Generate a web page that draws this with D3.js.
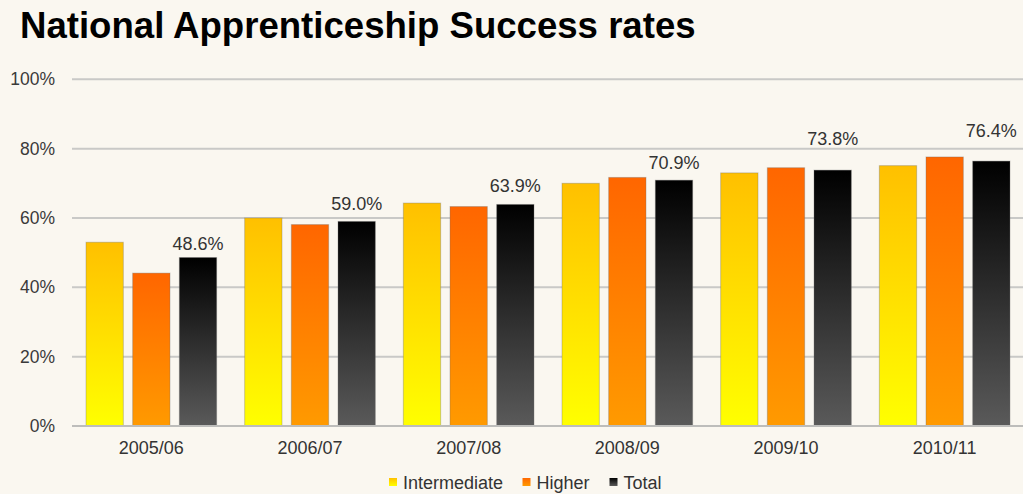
<!DOCTYPE html>
<html>
<head>
<meta charset="utf-8">
<script src="https://cdn.jsdelivr.net/npm/d3@7"></script>
<style>
  html, body { margin: 0; padding: 0; background: #FAF7F0; }
  svg { display: block; font-family: "Liberation Sans", Arial, sans-serif; }
</style>
</head>
<body>
<svg id="chart" width="1023" height="494"></svg>
<script>
// Success rates by academic year (%)
const years = ["2005/06", "2006/07", "2007/08", "2008/09", "2009/10", "2010/11"];
const seriesNames = ["Intermediate", "Higher", "Total"];
const intermediate = [53.0, 60.0, 64.3, 70.0, 73.0, 75.1];
const higher = [44.1, 58.1, 63.3, 71.7, 74.5, 77.6];
const total = [48.6, 59.0, 63.9, 70.9, 73.8, 76.4];
const yTicks = [0, 20, 40, 60, 80, 100];

const seriesValues = [intermediate, higher, total];

const svg = d3.select("#chart");
const W = 1023, H = 494;
const margin = { left: 72, right: 0, top: 79.3, bottom: 68 };
const plotBottom = H - margin.bottom; // 426

// Gradients for each series: [top colour, bottom colour]
const gradStops = {
  Intermediate: ["#FFC000", "#FFFF00"],
  Higher: ["#FF6600", "#FF9A00"],
  Total: ["#000000", "#5A5A5A"]
};
const defs = svg.append("defs");
seriesNames.forEach((name, i) => {
  const g = defs.append("linearGradient")
    .attr("id", "grad" + i)
    .attr("x1", 0).attr("y1", 0).attr("x2", 0).attr("y2", 1);
  g.append("stop").attr("offset", "0%").attr("stop-color", gradStops[name][0]);
  g.append("stop").attr("offset", "100%").attr("stop-color", gradStops[name][1]);
});

// Title
svg.append("text")
  .attr("x", 20).attr("y", 38)
  .attr("font-size", 36.6).attr("font-weight", "bold")
  .attr("fill", "#000")
  .text("National Apprenticeship Success rates");

// Scales
const x0 = d3.scaleBand().domain(years).range([margin.left, 1024]).paddingInner(0).paddingOuter(0);
const x1 = d3.scaleBand().domain(seriesNames).range([0, x0.bandwidth()]).paddingInner(0.2).paddingOuter(0.3);
const y = d3.scaleLinear().domain([0, 100]).range([plotBottom, margin.top]);

// Gridlines
svg.append("g").selectAll("line")
  .data(yTicks)
  .join("line")
  .attr("x1", margin.left).attr("x2", W)
  .attr("y1", d => y(d)).attr("y2", d => y(d))
  .attr("stroke", "#C9C9C7").attr("stroke-width", 2);

// Y axis labels
const yAxis = d3.axisLeft(y).tickValues(yTicks).tickSize(0).tickPadding(0)
  .tickFormat(d => d + "%");
const yG = svg.append("g").attr("transform", `translate(55,0)`).call(yAxis);
yG.select(".domain").remove();
yG.selectAll("text").attr("font-size", 17.5).attr("fill", "#3A3A3A")
  .attr("font-family", "Liberation Sans, Arial, sans-serif");

// Bars
const groups = svg.append("g").selectAll("g")
  .data(years)
  .join("g")
  .attr("transform", d => `translate(${x0(d)},0)`);

groups.selectAll("rect")
  .data((yr, yi) => seriesNames.map((s, si) => ({ s, si, v: seriesValues[si][yi] })))
  .join("rect")
  .attr("x", d => x1(d.s))
  .attr("width", x1.bandwidth())
  .attr("y", d => y(d.v))
  .attr("height", d => y(0) - y(d.v))
  .attr("fill", d => `url(#grad${d.si})`)
  .attr("stroke", "rgba(110,110,110,0.35)")
  .attr("stroke-width", 1);

// Baseline
svg.append("line")
  .attr("x1", margin.left).attr("x2", W)
  .attr("y1", y(0)).attr("y2", y(0))
  .attr("stroke", "#BDBDBB").attr("stroke-width", 2);

// Value labels above the Total bars
const labelLift = [8, 11, 12, 11, 25, 24];
groups.append("text")
  .attr("x", x1("Total") + x1.bandwidth() / 2)
  .attr("y", (d, i) => y(total[i]) - labelLift[i])
  .attr("text-anchor", "middle")
  .attr("font-size", 18).attr("fill", "#333")
  .text((d, i) => total[i].toFixed(1) + "%");

// X axis labels
const xAxis = d3.axisBottom(x0).tickSize(0).tickPadding(0);
const xG = svg.append("g").attr("transform", `translate(0,${plotBottom + 15})`).call(xAxis);
xG.select(".domain").remove();
xG.selectAll("text").attr("font-size", 18).attr("fill", "#333")
  .attr("font-family", "Liberation Sans, Arial, sans-serif");

// Legend
const legendX = [389, 522.5, 609.5];
const legend = svg.append("g").selectAll("g")
  .data(seriesNames)
  .join("g")
  .attr("transform", (d, i) => `translate(${legendX[i]},478)`);
legend.append("rect")
  .attr("width", 8).attr("height", 8)
  .attr("fill", (d, i) => `url(#grad${i})`);
legend.append("text")
  .attr("x", 14).attr("y", 10.5)
  .attr("font-size", 18).attr("fill", "#333")
  .text(d => d);
</script>
</body>
</html>
